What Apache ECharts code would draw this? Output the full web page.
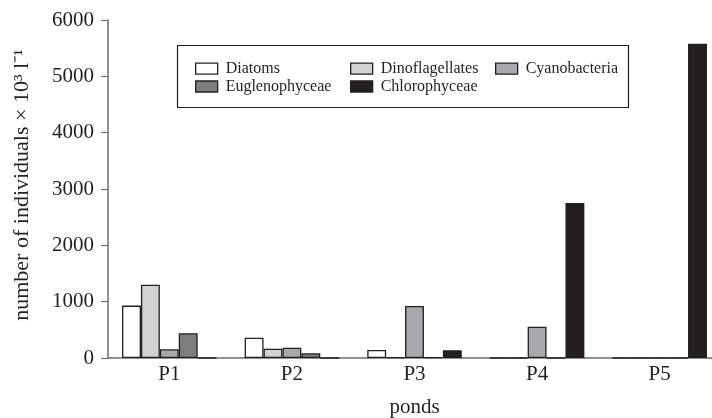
<!DOCTYPE html>
<html>
<head>
<meta charset="utf-8">
<script src="https://cdn.jsdelivr.net/npm/echarts@6/dist/echarts.min.js"></script>
<style>
html,body{margin:0;padding:0;background:#fff;}
#c{width:712px;height:418px;}
</style>
</head>
<body>
<div id="c"></div>
<script>
var categories = ['P1', 'P2', 'P3', 'P4', 'P5'];
var seriesNames = ['Diatoms', 'Dinoflagellates', 'Cyanobacteria', 'Euglenophyceae', 'Chlorophyceae'];
var diatoms = [930, 360, 142, 0, 0];
var dinoflagellates = [1300, 165, 15, 0, 0];
var cyanobacteria = [155, 183, 924, 556, 0];
var euglenophyceae = [440, 83, 15, 0, 0];
var chlorophyceae = [0, 0, 137, 2753, 5580];
var yTicks = [0, 1000, 2000, 3000, 4000, 5000, 6000];

var colors = ['#ffffff', '#d1d2d4', '#a7a9ac', '#7d7e80', '#231f20'];
var values = [diatoms, dinoflagellates, cyanobacteria, euglenophyceae, chlorophyceae];
var ink = '#231f20';
var font = 'Liberation Serif';

var series = seriesNames.map(function (n, i) {
  return {
    name: n,
    type: 'bar',
    data: values[i],
    barWidth: 18.9,
    barGap: '0%',
    itemStyle: { color: colors[i], borderColor: ink, borderWidth: 1.3 }
  };
});

var legendPos = [
  { left: 195, top: 60.7 },
  { left: 350, top: 60.7 },
  { left: 495, top: 60.7 },
  { left: 195, top: 78.5 },
  { left: 350, top: 78.5 }
];
var legends = seriesNames.map(function (n, i) {
  return {
    data: [{ name: n, textStyle: { fontFamily: font, fontSize: 16, color: ink } }],
    left: legendPos[i].left,
    top: legendPos[i].top,
    padding: 0,
    itemWidth: 22,
    itemHeight: 11,
    icon: 'rect',
    selectedMode: false,
    itemStyle: { borderColor: ink, borderWidth: 1.3 },
    textStyle: { fontFamily: font, fontSize: 16, color: ink, padding: [0, 0, 0, 3], lineHeight: 16 }
  };
});

var chart = echarts.init(document.getElementById('c'), null, { renderer: 'canvas' });
chart.setOption({
  animation: false,
  backgroundColor: '#fff',
  textStyle: { fontFamily: font },
  grid: { left: 108, top: 20, width: 613, bottom: 60, containLabel: false, outerBoundsMode: 'none' },
  legend: legends,
  graphic: [{
    type: 'rect',
    shape: { x: 177.5, y: 45.5, width: 451, height: 62 },
    style: { fill: 'none', stroke: ink, lineWidth: 1.2 },
    z: 10
  }],
  xAxis: {
    type: 'category',
    data: categories,
    name: 'ponds',
    nameLocation: 'middle',
    nameGap: 39,
    nameTextStyle: { fontFamily: font, fontSize: 21, color: ink },
    axisLine: { lineStyle: { color: '#6d6e71', width: 1.5 } },
    axisTick: { show: false },
    axisLabel: { fontFamily: font, fontSize: 21, color: ink, margin: 6 }
  },
  yAxis: {
    type: 'value',
    min: yTicks[0],
    max: yTicks[yTicks.length - 1],
    interval: 1000,
    name: 'number of individuals × 10³ l⁻¹',
    nameLocation: 'middle',
    nameGap: 75,
    nameTextStyle: { fontFamily: font, fontSize: 22, color: ink, padding: [0, 0, 0, 8] },
    axisLine: { show: true, lineStyle: { color: '#6d6e71', width: 1.5 } },
    axisTick: { show: true, length: 7, lineStyle: { color: '#6d6e71', width: 1.2 } },
    splitLine: { show: false },
    axisLabel: { fontFamily: font, fontSize: 21, color: ink, margin: 14, formatter: function (v) { return String(v); } }
  },
  series: series
});
</script>
</body>
</html>
